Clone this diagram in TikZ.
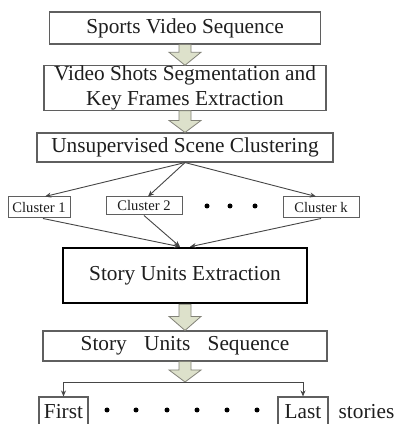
\documentclass[tikz,border=0pt]{standalone}
\usepackage{fontspec}
\setmainfont{Liberation Serif}
\usetikzlibrary{arrows.meta}
\definecolor{boxgray}{RGB}{95,95,95}
\definecolor{txt}{RGB}{30,30,30}
\definecolor{linegray}{RGB}{70,70,70}
\definecolor{arrgray}{RGB}{130,130,120}
\definecolor{arrfill}{RGB}{221,225,203}
\newcommand\blockarr[3]{%
  \draw[blockarrow] ([xshift=-6pt]#1.south) -- ([xshift=6pt]#1.south)
    -- ([xshift=6pt,yshift=#3]#2) -- ([xshift=16pt,yshift=#3]#2) -- (#2)
    -- ([xshift=-16pt,yshift=#3]#2) -- ([xshift=-6pt,yshift=#3]#2) -- cycle;}
\begin{document}
\begin{tikzpicture}[x=1pt,y=1pt,
  box/.style={draw=boxgray,line width=1.1pt,inner sep=0pt,
    font=\fontsize{21.3}{25}\selectfont,text=txt,align=center},
  cbox/.style={draw=boxgray,line width=1pt,inner sep=0pt,
    font=\fontsize{14.6}{17}\selectfont,text=txt},
  link/.style={draw=linegray,line width=0.9pt,-{Stealth[length=6pt,width=5pt]}},
  blockarrow/.style={draw=arrgray,line width=0.8pt,fill=arrfill},
  dot/.style={circle,fill=black,inner sep=0pt,minimum size=5pt}]
\useasboundingbox (0,0) rectangle (398,424);
\fill[white] (0,0) rectangle (398,424);

\node[box,minimum width=271pt,minimum height=32pt] (b1) at (185,396) {Sports Video Sequence};
\node[box,minimum width=282pt,minimum height=44pt] (b2) at (185,336) {Video Shots Segmentation and\\Key Frames Extraction};
\node[box,minimum width=296pt,minimum height=29pt] (b3) at (185,276.5) {Unsupervised Scene Clustering};

\node[cbox,minimum width=62pt,minimum height=21pt] (c1) at (39,216.5) {Cluster 1};
\node[cbox,minimum width=76pt,minimum height=18pt] (c2) at (144,218) {Cluster 2};
\node[cbox,minimum width=76pt,minimum height=21pt] (ck) at (321,216.5) {Cluster k};
\node[dot] (d1) at (207,218) {};
\node[dot] (d2) at (230,218) {};
\node[dot] (d3) at (255,218) {};

\node[box,draw=black,line width=2.5pt,minimum width=244pt,minimum height=55pt] (ext) at (185,148.5) {Story Units Extraction};
\node[box,minimum width=284pt,minimum height=30pt] (seq) at (185,78) {Story\hspace{12pt} Units\hspace{12pt} Sequence};
\coordinate (br) at (185,42);

\node[box,minimum width=49pt,minimum height=30pt] (first) at (63.5,12) {First};
\node[box,minimum width=50pt,minimum height=30pt] (last) at (303,12) {Last};
\node[font=\fontsize{21.3}{25}\selectfont,text=txt,inner sep=0pt] (stories) at (366.5,12) {stories};
\foreach \i/\x in {1/107,2/136,3/167,4/197,5/227,6/257}
  \node[dot] (e\i) at (\x,14) {};

\blockarr{b1}{b2.north}{13pt}
\blockarr{b2}{b3.north}{12pt}
\blockarr{ext}{seq.north}{14pt}
\blockarr{seq}{br}{12pt}

\draw[link] (b3.south) -- ([xshift=6pt]c1.north);
\draw[link] (b3.south) -- ([xshift=4pt]c2.north);
\draw[link] (b3.south) -- ([xshift=-5pt]ck.north);
\draw[link] ([xshift=4pt]c1.south) -- ([xshift=-5pt]ext.north);
\draw[link] (c2.south) -- ([xshift=-5pt]ext.north);
\draw[link] (ck.south) -- ([xshift=5pt]ext.north);
\draw[link] (br) -| (first.north);
\draw[link] (br) -| (last.north);
\end{tikzpicture}
\end{document}
